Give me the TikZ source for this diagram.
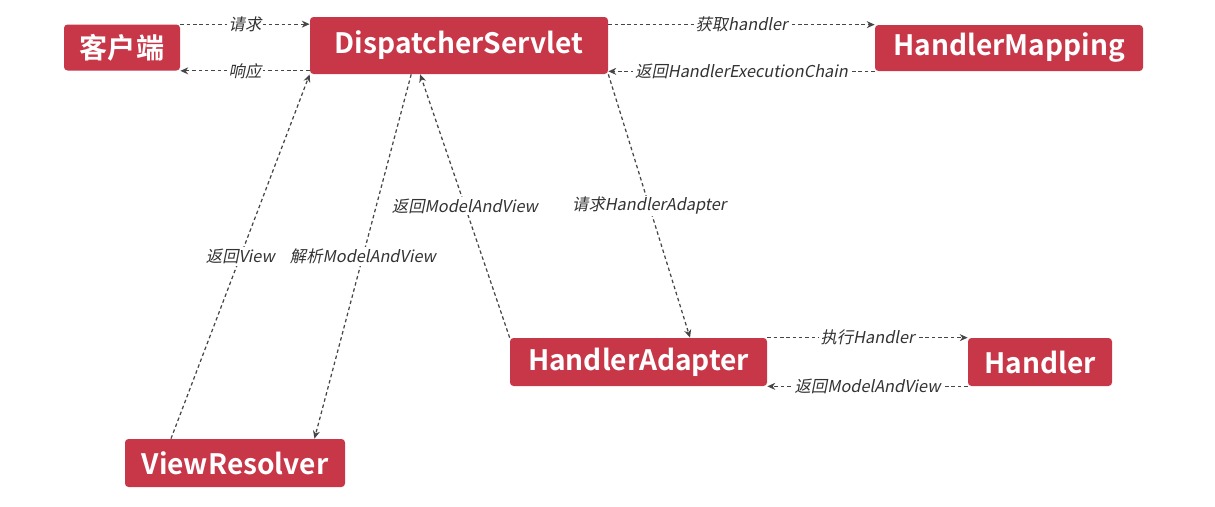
\documentclass[tikz,border=0pt]{standalone}
\usepackage{fontspec}
\usetikzlibrary{arrows.meta,calc}
\newfontfamily\boxfont{Noto Sans CJK SC}[BoldFont={Noto Sans CJK SC Bold}]
\newfontfamily\lblfont{Noto Sans CJK SC}[FakeSlant=0.2]
\definecolor{boxred}{RGB}{200,55,72}
\definecolor{flowgray}{RGB}{70,70,70}
\tikzset{
  box/.style={fill=boxred, rounded corners=2pt, text=white,
    font=\boxfont\bfseries\fontsize{16}{19}\selectfont, inner sep=0pt},
  flow/.style={draw=flowgray, line width=0.7pt, dash pattern=on 2pt off 1.6pt,
    -{Stealth[length=4.5pt,width=4pt]}},
  lbl/.style={fill=white, inner sep=1pt, text=black!80,
    font=\lblfont\fontsize{9.3}{11}\selectfont}
}

\begin{document}
\begin{tikzpicture}[x=0.02cm,y=-0.02cm]
  \useasboundingbox (0,0) rectangle (1215,507);
  % boxes, centres in pixels of the sketch
  \node[box, minimum width=116*0.02cm, minimum height=46*0.02cm] (client) at (122,47.5) {客户端};
  \node[box, minimum width=298*0.02cm, minimum height=57*0.02cm] (ds) at (459,45.5) {DispatcherServlet};
  \node[box, minimum width=268*0.02cm, minimum height=46*0.02cm] (hm) at (1009,48) {HandlerMapping};
  \node[box, minimum width=257*0.02cm, minimum height=48*0.02cm] (ha) at (638.5,362) {HandlerAdapter};
  \node[box, minimum width=144*0.02cm, minimum height=48*0.02cm] (handler) at (1040,362) {Handler};
  \node[box, minimum width=220*0.02cm, minimum height=48*0.02cm] (vr) at (235,463) {ViewResolver};

  % request / response
  \draw[flow] (client.north east) -- node[lbl] {请求} (client.north east -| ds.west);
  \draw[flow] (ds.west |- client.south east) -- node[lbl] {响应} (client.south east);
  \draw[flow] (ds.east |- hm.north west) -- node[lbl] {获取handler} (hm.north west);
  \draw[flow] (hm.south west) -- node[lbl] {返回HandlerExecutionChain} (ds.east |- hm.south west);
  \draw[flow] (ha.north east) -- node[lbl] {执行Handler} (handler.north west);
  \draw[flow] (handler.south west) -- node[lbl] {返回ModelAndView} (ha.south east);

  % diagonals
  \draw[flow] (ds.south east) -- node[lbl] {请求HandlerAdapter}
    ($(ha.north west)!0.7!(ha.north east)$);
  \draw[flow] (ha.north west) -- node[lbl] {返回ModelAndView}
    ($(ds.south west)!0.37!(ds.south east)$);
  \draw[flow] ($(ds.south west)!0.34!(ds.south east)$) -- node[lbl] {解析ModelAndView}
    ($(vr.north west)!0.86!(vr.north east)$);
  \draw[flow] ($(vr.north west)!0.21!(vr.north east)$) -- node[lbl] {返回View} (ds.south west);
\end{tikzpicture}
\end{document}
